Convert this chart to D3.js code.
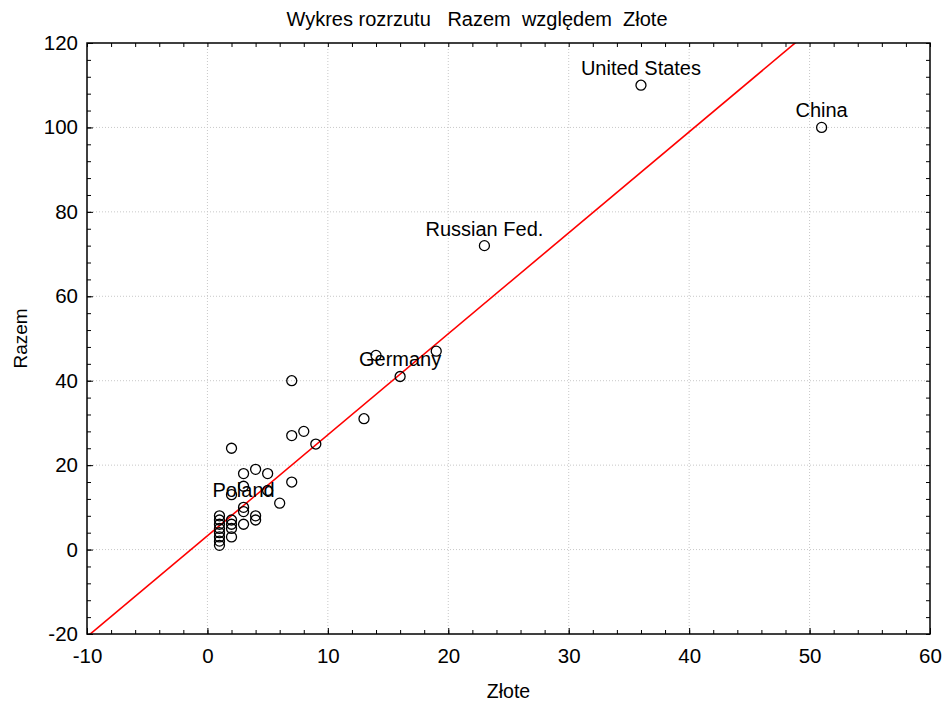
<!DOCTYPE html>
<html>
<head>
<meta charset="utf-8">
<script src="https://d3js.org/d3.v7.min.js"></script>
<style>
  body { margin: 0; background: #fff; }
  text { font-family: "Liberation Sans", Arial, sans-serif; }
</style>
</head>
<body>
<div id="chart"></div>
<script>

// data: Złote (x) vs Razem (y)
var zlote = [36, 51, 23, 16, 3, 19, 14, 7, 13, 8, 7, 9, 2, 4, 3, 5, 7, 3, 5, 2, 6, 3, 4, 4, 2, 2, 3, 2, 2, 1, 1, 1, 1, 1, 1, 1, 1];
var razem = [110, 100, 72, 41, 10, 47, 46, 40, 31, 28, 27, 25, 24, 19, 18, 18, 16, 15, 14, 13, 11, 9, 8, 7, 7, 6, 6, 5, 3, 8, 7, 6, 5, 4, 3, 2, 1];
var names = ["United States", "China", "Russian Fed.", "Germany", "Poland"];

// fitted line Razem = a + b * Złote
var fitA = 3.27, fitB = 2.392;

var xTicks = [-10, 0, 10, 20, 30, 40, 50, 60];
var yTicks = [-20, 0, 20, 40, 60, 80, 100, 120];

var W = 943, H = 704;
var margin = {top: 43, right: 13, bottom: 70, left: 87};
var width = W - margin.left - margin.right,
    height = H - margin.top - margin.bottom;

var svg = d3.select("#chart").append("svg")
    .attr("width", W)
    .attr("height", H);

var g = svg.append("g")
    .attr("transform", "translate(" + margin.left + "," + margin.top + ")");

var x = d3.scaleLinear().domain([-10, 60]).range([0, width]);
var y = d3.scaleLinear().domain([-20, 120]).range([height, 0]);

// grid
g.selectAll(".vgrid")
  .data(xTicks.slice(1, -1))
  .enter().append("line")
    .attr("x1", function(d) { return x(d); })
    .attr("x2", function(d) { return x(d); })
    .attr("y1", 0).attr("y2", height)
    .attr("stroke", "#c8c8c8")
    .attr("stroke-dasharray", "1,2");

g.selectAll(".hgrid")
  .data(yTicks.slice(1, -1))
  .enter().append("line")
    .attr("y1", function(d) { return y(d); })
    .attr("y2", function(d) { return y(d); })
    .attr("x1", 0).attr("x2", width)
    .attr("stroke", "#c8c8c8")
    .attr("stroke-dasharray", "1,2");

// minor ticks (inward on all four sides)
var xMinor = d3.range(-10, 60.01, 2);
var yMinor = d3.range(-20, 120.01, 4);

function styleAxis(sel) {
  sel.select(".domain").remove();
  sel.selectAll(".tick line").attr("stroke", "#000").attr("stroke-width", 1);
}

g.append("g").attr("transform", "translate(0," + height + ")")
  .call(d3.axisBottom(x).tickValues(xMinor).tickSize(-4).tickFormat(""))
  .call(styleAxis);
g.append("g")
  .call(d3.axisTop(x).tickValues(xMinor).tickSize(-4).tickFormat(""))
  .call(styleAxis);
g.append("g")
  .call(d3.axisLeft(y).tickValues(yMinor).tickSize(-4).tickFormat(""))
  .call(styleAxis);
g.append("g").attr("transform", "translate(" + width + ",0)")
  .call(d3.axisRight(y).tickValues(yMinor).tickSize(-4).tickFormat(""))
  .call(styleAxis);

// major ticks with labels (plain hyphen for negatives)
var plain = function(d) { return String(d); };

var xAxis = g.append("g").attr("transform", "translate(0," + height + ")")
  .call(d3.axisBottom(x).tickValues(xTicks).tickSize(-6).tickPadding(14).tickFormat(plain))
  .call(styleAxis);
xAxis.selectAll("text")
  .attr("fill", "#000")
  .style("font-size", "20.5px")
  .style("font-family", "Liberation Sans, Arial, sans-serif");

var yAxis = g.append("g")
  .call(d3.axisLeft(y).tickValues(yTicks).tickSize(-6).tickPadding(9).tickFormat(plain))
  .call(styleAxis);
yAxis.selectAll("text")
  .attr("fill", "#000")
  .style("font-size", "20.5px")
  .style("font-family", "Liberation Sans, Arial, sans-serif");

// regression line, clipped to the plot
svg.append("clipPath").attr("id", "clip")
  .append("rect").attr("width", width).attr("height", height);

var x0 = -10, x1 = 60;
g.append("line")
  .attr("clip-path", "url(#clip)")
  .attr("x1", x(x0)).attr("y1", y(fitA + fitB * x0))
  .attr("x2", x(x1)).attr("y2", y(fitA + fitB * x1))
  .attr("stroke", "#ff0000")
  .attr("stroke-width", 1.6);

// points
g.selectAll(".pt")
  .data(zlote)
  .enter().append("circle")
    .attr("cx", function(d) { return x(d); })
    .attr("cy", function(d, i) { return y(razem[i]); })
    .attr("r", 5)
    .attr("fill", "none")
    .attr("stroke", "#000")
    .attr("stroke-width", 1.3);

// labels for named points
g.selectAll(".lbl")
  .data(names)
  .enter().append("text")
    .attr("x", function(d, i) { return x(zlote[i]); })
    .attr("y", function(d, i) { return y(razem[i]) - 10; })
    .attr("text-anchor", "middle")
    .style("font-size", "20px")
    .attr("fill", "#000")
    .text(function(d) { return d; });

// frame
g.append("rect")
  .attr("width", width).attr("height", height)
  .attr("fill", "none")
  .attr("stroke", "#000")
  .attr("stroke-width", 1.5);

// title and axis titles
svg.append("text")
  .attr("x", 477).attr("y", 26)
  .attr("text-anchor", "middle")
  .style("font-size", "20px")
  .style("white-space", "pre")
  .text("Wykres rozrzutu   Razem  względem  Złote");

svg.append("text")
  .attr("x", margin.left + width / 2).attr("y", 698)
  .attr("text-anchor", "middle")
  .style("font-size", "19.5px")
  .text("Złote");

svg.append("text")
  .attr("transform", "translate(27," + (margin.top + height / 2) + ") rotate(-90)")
  .attr("text-anchor", "middle")
  .style("font-size", "19px")
  .text("Razem");

</script>
</body>
</html>
